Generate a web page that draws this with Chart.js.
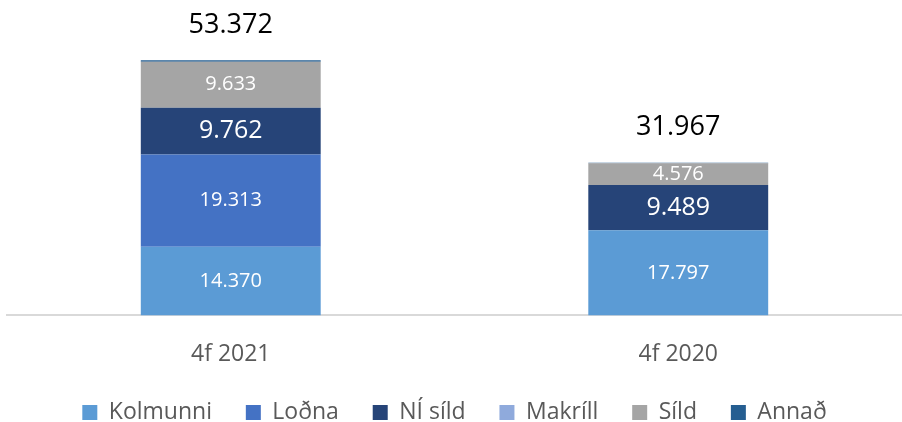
<!DOCTYPE html>
<html>
<head>
<meta charset="utf-8">
<script src="https://cdn.jsdelivr.net/npm/chart.js@4"></script>
<style>
  html, body { margin: 0; padding: 0; background: #fff; }
  #wrap { width: 902px; height: 422px; }
</style>
</head>
<body>
<div id="wrap"><canvas id="chart" width="902" height="422"></canvas></div>
<script>
// categories and series (tonn)
var categories = ['4f 2021', '4f 2020'];
var kolmunni = [14370, 17797];
var lodna = [19313, 0];
var niSild = [9762, 9489];
var makrill = [0, 0];
var sild = [9633, 4576];
var annad = [294, 105];
var totals = [53372, 31967];

var FONT = "'Open Sans'";

function fmt(v) {
    return v.toLocaleString('de-DE');
}

// draws the numbers inside the bars and the totals on top
var barLabels = {
    id: 'barLabels',
    afterDatasetsDraw: function(chart) {
        var ctx = chart.ctx;
        ctx.save();
        ctx.textAlign = 'center';
        ctx.textBaseline = 'middle';
        chart.data.datasets.forEach(function(ds, i) {
            if (!ds.showLabel) return;
            var meta = chart.getDatasetMeta(i);
            meta.data.forEach(function(bar, j) {
                var v = ds.data[j];
                if (!v) return;
                ctx.fillStyle = '#fff';
                ctx.font = ds.labelSize + 'px ' + FONT;
                ctx.fillText(fmt(v), bar.x, (bar.y + bar.base) / 2);
            });
        });
        var top = chart.getDatasetMeta(chart.data.datasets.length - 1);
        top.data.forEach(function(bar, j) {
            ctx.fillStyle = '#000';
            ctx.font = '27px ' + FONT;
            ctx.fillText(fmt(totals[j]), bar.x, bar.y - 35);
        });
        ctx.restore();
    }
};

var ctx = document.getElementById('chart').getContext('2d');
new Chart(ctx, {
    type: 'bar',
    data: {
        labels: categories,
        datasets: [
            { label: 'Kolmunni', data: kolmunni, backgroundColor: '#5B9BD5', showLabel: true, labelSize: 20 },
            { label: 'Loðna', data: lodna, backgroundColor: '#4472C4', showLabel: true, labelSize: 20 },
            { label: 'NÍ síld', data: niSild, backgroundColor: '#264478', showLabel: true, labelSize: 25 },
            { label: 'Makríll', data: makrill, backgroundColor: '#8FAADC' },
            { label: 'Síld', data: sild, backgroundColor: '#A5A5A5', showLabel: true, labelSize: 20 },
            { label: 'Annað', data: annad, backgroundColor: '#255E91' }
        ]
    },
    options: {
        responsive: false,
        animation: false,
        layout: { padding: { left: 7, right: 0, top: 0, bottom: -12 } },
        datasets: {
            bar: { barPercentage: 0.402, categoryPercentage: 1.0 }
        },
        scales: {
            x: {
                stacked: true,
                grid: { display: false },
                border: { display: true, color: '#D9D9D9', width: 2 },
                ticks: { color: '#595959', font: { family: FONT, size: 23 }, padding: 17 },
                afterFit: function(scale) { scale.height += 12; }
            },
            y: {
                stacked: true,
                display: false,
                min: 0,
                max: 66000
            }
        },
        plugins: {
            legend: {
                position: 'bottom',
                labels: {
                    color: '#595959',
                    font: { family: FONT, size: 23 },
                    boxWidth: 15,
                    boxHeight: 15,
                    padding: 4,
                    generateLabels: function(chart) {
                        var items = Chart.defaults.plugins.legend.labels.generateLabels(chart);
                        items.forEach(function(it, i) {
                            if (i < items.length - 1) it.text = it.text + '\u00a0\u00a0\u00a0\u00a0\u00a0';
                        });
                        return items;
                    }
                }
            },
            tooltip: { enabled: false }
        }
    },
    plugins: [barLabels]
});
</script>
</body>
</html>
